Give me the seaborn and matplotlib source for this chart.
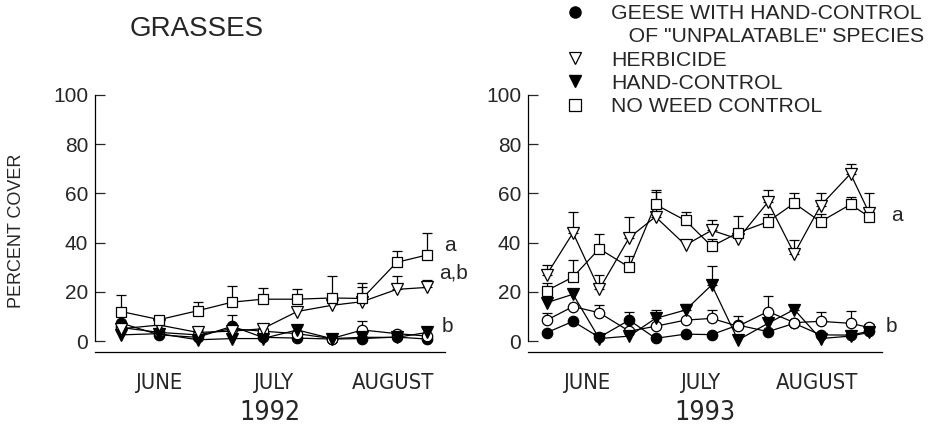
import matplotlib
matplotlib.use("Agg")
import matplotlib.pyplot as plt
from matplotlib import font_manager
from matplotlib.font_manager import FontProperties
from matplotlib.textpath import TextPath
from matplotlib.lines import Line2D
import numpy as np
import pandas as pd
import seaborn as sns

# sampling days (day 1 = June 1)
days_1992 = [5, 15, 25, 34, 42, 51, 60, 68, 77, 85]
days_1993 = [4, 11, 18, 26, 33, 41, 48, 55, 63, 70, 77, 85, 90]

# 1992 percent cover (mean) and upper error bars
geese_92 = [7.3, 2.5, 1.5, 6.0, 1.5, 1.2, 0.8, 1.0, 1.6, 0.8]
geese_92_err = [0, 0, 0, 4.5, 0, 0, 0, 0, 0, 0]
geese_open_92 = [5.5, 3.5, 2.5, 5.0, 4.0, 3.0, 1.0, 4.5, 3.0, 2.0]
geese_open_92_err = [0, 0, 0, 0, 0, 0, 0, 3.5, 0, 0]
herbicide_92 = [5.0, 6.5, 3.5, 4.0, 5.0, 12.0, 14.5, 16.0, 21.0, 21.8]
herbicide_92_err = [0, 0, 1.0, 0, 0, 0, 0, 6.0, 5.5, 3.0]
hand_92 = [2.5, 3.0, 0.5, 1.0, 1.0, 4.5, 1.0, 1.5, 1.5, 3.5]
hand_92_err = [0, 0, 0, 0, 0, 0, 0, 0, 0, 0]
noweed_92 = [12.0, 8.7, 12.3, 15.8, 17.0, 17.0, 17.5, 17.3, 32.0, 35.0]
noweed_92_err = [6.8, 0, 3.5, 6.5, 4.5, 4.0, 9.0, 6.3, 4.5, 9.0]

# 1993
geese_93 = [3.4, 8.0, 1.5, 8.5, 1.1, 2.8, 2.6, 6.5, 3.8, 7.2, 2.5, 2.4, 4.0]
geese_93_err = [0, 0, 0, 3.4, 0, 0, 0, 3.5, 0, 0, 0, 0, 2.5]
geese_open_93 = [8.5, 14.0, 11.5, 4.0, 6.0, 8.5, 9.2, 6.0, 12.0, 7.5, 8.0, 7.2, 5.5]
geese_open_93_err = [3.0, 0, 3.0, 0, 0, 0, 3.6, 0, 6.4, 0, 4.0, 5.0, 1.5]
herbicide_93 = [27.0, 44.0, 21.0, 42.0, 50.5, 39.0, 45.0, 41.5, 56.5, 35.5, 55.0, 68.0, 52.0]
herbicide_93_err = [4.0, 8.5, 6.0, 8.5, 10.0, 0, 4.0, 0, 4.8, 5.7, 5.0, 4.0, 8.0]
hand_93 = [15.6, 19.0, 1.0, 2.0, 9.2, 12.6, 22.8, 0.4, 7.2, 12.8, 1.0, 2.0, 3.5]
hand_93_err = [0, 0, 0, 0, 3.4, 2.4, 7.7, 0, 0, 2.0, 0, 0, 0]
noweed_93 = [20.5, 26.0, 37.5, 30.0, 55.5, 49.0, 38.5, 44.0, 48.5, 56.0, 48.5, 55.5, 50.5]
noweed_93_err = [3.0, 7.0, 6.0, 4.5, 6.0, 3.5, 3.0, 7.0, 3.0, 4.0, 3.0, 3.0, 2.0]

month_ticks = [15, 45, 76]
month_labels = ["JUNE", "JULY", "AUGUST"]
yticks = [0, 20, 40, 60, 80, 100]

legend_labels = [
    "GEESE WITH HAND-CONTROL",
    '   OF "UNPALATABLE" SPECIES',
    "HERBICIDE",
    "HAND-CONTROL",
    "NO WEED CONTROL",
]

sns.set_style("ticks")
plt.rcParams["font.family"] = ["Liberation Sans", "DejaVu Sans"]


def find_narrow():
    # look for a condensed sans face, month/year labels are narrow in the original
    best = None
    for f in font_manager.fontManager.ttflist:
        if f.style != "normal" or f.weight not in (400, "normal", "regular"):
            continue
        if "Liberation Sans Narrow" in f.name or "Arial Narrow" in f.name:
            return f.fname
        if best is None and "Sans" in f.name and (
                "Condensed" in f.name or f.stretch in ("condensed", "semi-condensed")):
            best = f.fname
    return best


narrow_file = find_narrow()
if narrow_file:
    narrow = FontProperties(fname=narrow_file)
else:
    narrow = FontProperties(family="Liberation Sans")


def fitted(prop, text, width_px):
    # font size that gives the wanted width on a 100 dpi figure
    w = TextPath((0, 0), text, size=10, prop=prop).get_extents().width * 100 / 72
    p = prop.copy()
    p.set_size(10 * width_px / w)
    return p


month_font = fitted(narrow, "AUGUST", 82)
year_font = fitted(narrow, "1992", 56)

# marker style per series: (marker, facecolor, size)
styles = {
    "geese": ("o", "black", 7.5),
    "geese_open": ("o", "white", 7.5),
    "herbicide": ("v", "white", 8.5),
    "hand": ("v", "black", 8.5),
    "noweed": ("s", "white", 7.5),
}

fig = plt.figure(figsize=(9.31, 4.26), dpi=100)
ax1 = fig.add_axes([95 / 931, 1 - 352 / 426, 350 / 931, 257 / 426])
ax2 = fig.add_axes([528 / 931, 1 - 352 / 426, 354 / 931, 257 / 426])

panels = [
    (ax1, days_1992, {
        "geese": (geese_92, geese_92_err),
        "geese_open": (geese_open_92, geese_open_92_err),
        "hand": (hand_92, hand_92_err),
        "herbicide": (herbicide_92, herbicide_92_err),
        "noweed": (noweed_92, noweed_92_err),
    }, "1992", (-1.8, 89.6)),
    (ax2, days_1993, {
        "geese": (geese_93, geese_93_err),
        "geese_open": (geese_open_93, geese_open_93_err),
        "hand": (hand_93, hand_93_err),
        "herbicide": (herbicide_93, herbicide_93_err),
        "noweed": (noweed_93, noweed_93_err),
    }, "1993", (-1.0, 93.4)),
]

for ax, days, series, year, xlim in panels:
    for name, (vals, err) in series.items():
        marker, face, size = styles[name]
        df = pd.DataFrame({"day": days, "cover": vals})
        err = np.array(err)
        keep = err > 0
        ax.errorbar(np.array(days)[keep], np.array(vals)[keep],
                    yerr=[np.zeros(keep.sum()), err[keep]], fmt="none",
                    ecolor="black", elinewidth=0.9, capsize=3.6, capthick=0.9,
                    zorder=1.5)
        sns.lineplot(data=df, x="day", y="cover", ax=ax, color="black",
                     linewidth=0.9, marker=marker, markersize=size,
                     markerfacecolor=face, markeredgecolor="black",
                     markeredgewidth=0.9, errorbar=None, legend=False)
    ax.set_xlim(*xlim)
    ax.set_ylim(-4.46, 100)
    ax.set_yticks(yticks)
    ax.set_yticklabels([str(t) for t in yticks], fontsize=15)
    ax.set_xticks(month_ticks)
    ax.set_xticklabels(month_labels)
    for lab in ax.get_xticklabels():
        lab.set_fontproperties(month_font)
    ax.tick_params(axis="y", direction="in", length=7, width=0.9, pad=5)
    ax.tick_params(axis="x", length=0, pad=15)
    ax.spines["left"].set_bounds(0, 100)
    for s in ["left", "bottom"]:
        ax.spines[s].set_linewidth(0.9)
        ax.spines[s].set_color("black")
    sns.despine(ax=ax)
    ax.set_xlabel(year, fontproperties=year_font)
    ax.xaxis.set_label_coords(0.5, -(413 - 352) / 257)
    ax.xaxis.label.set_va("center")
    ax.set_ylabel("")

ax1.set_ylabel("PERCENT COVER", fontsize=13)
ax1.yaxis.set_label_coords(-0.223, 0.47)
ax1.yaxis.label.set_va("center")

# significance letters
ax1.text(90.9, 38.7, "a", fontsize=15, ha="center", va="center")
ax1.text(91.7, 27.6, "a,b", fontsize=15, ha="center", va="center")
ax1.text(90.2, 5.8, "b", fontsize=15, ha="center", va="center")
ax2.text(97.3, 51.1, "a", fontsize=15, ha="center", va="center")
ax2.text(96.0, 5.8, "b", fontsize=15, ha="center", va="center")

fig.text(130 / 931, 1 - 29 / 426, "GRASSES", fontsize=20, va="center", ha="left")

handles = [
    Line2D([], [], ls="none", marker="o", ms=8, mfc="black", mec="black"),
    Line2D([], [], ls="none"),
    Line2D([], [], ls="none", marker="v", ms=8.5, mfc="white", mec="black", mew=0.9),
    Line2D([], [], ls="none", marker="v", ms=8.5, mfc="black", mec="black"),
    Line2D([], [], ls="none", marker="s", ms=8, mfc="white", mec="black", mew=0.9),
]
fig.legend(handles, legend_labels, loc="upper left",
           bbox_to_anchor=(566 / 931, 1 - 4 / 426), frameon=False,
           fontsize=15.3, handlelength=0.8, handletextpad=1.32,
           labelspacing=0.2, borderpad=0, borderaxespad=0)

fig.savefig("out.png", dpi=100, facecolor="white")
